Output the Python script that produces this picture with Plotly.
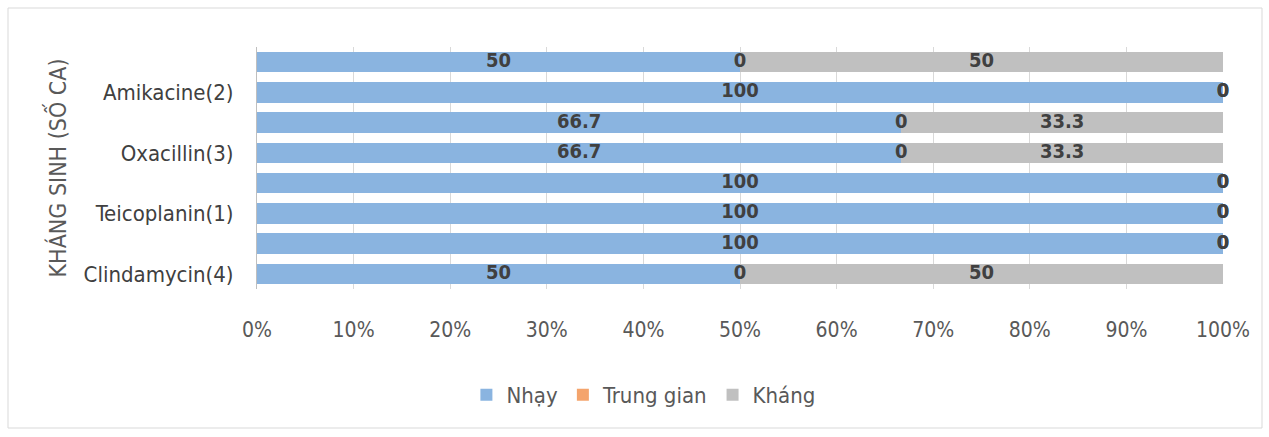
import plotly.graph_objects as go

# Data (top to bottom as shown)
categories = ["hidden-1", "Amikacine(2)", "hidden-3", "Oxacillin(3)",
              "hidden-5", "Teicoplanin(1)", "hidden-7", "Clindamycin(4)"]
shown_labels = ["Amikacine(2)", "Oxacillin(3)", "Teicoplanin(1)", "Clindamycin(4)"]
nhay = [50, 100, 66.7, 66.7, 100, 100, 100, 50]
trung_gian = [0, 0, 0, 0, 0, 0, 0, 0]
khang = [50, 0, 33.3, 33.3, 0, 0, 0, 50]
series_names = ["Nhạy", "Trung gian", "Kháng"]
series_colors = ["#8AB4E0", "#F4A46C", "#C0C0C0"]
x_ticks = [0, 10, 20, 30, 40, 50, 60, 70, 80, 90, 100]
x_tick_text = [f"{v}%" for v in x_ticks]

FONT = "Liberation Sans Narrow, DejaVu Sans Condensed, Arial Narrow, sans-serif"

fig = go.Figure()
series = [nhay, trung_gian, khang]
for name, vals, col in zip(series_names, series, series_colors):
    fig.add_trace(go.Bar(y=categories, x=vals, name=name, orientation="h",
                         marker=dict(color=col, line=dict(width=0)),
                         hoverinfo="x+name"))

# data labels at segment centres
lx, ly, lt = [], [], []
for i, c in enumerate(categories):
    start = 0
    for vals in series:
        v = vals[i]
        lx.append(start + v / 2)
        ly.append(c)
        lt.append(f"{v:g}")
        start += v
fig.add_trace(go.Scatter(x=lx, y=ly, text=lt, mode="text", showlegend=False,
                         textfont=dict(family=FONT, size=20, color="#404040",
                                       weight="bold"),
                         textposition="middle center", cliponaxis=False,
                         hoverinfo="skip"))

fig.update_layout(
    width=1269, height=437,
    barmode="stack", bargap=0.32,
    paper_bgcolor="white", plot_bgcolor="white",
    margin=dict(l=257, r=46, t=47, b=148),
    font=dict(family=FONT, color="#595959"),
    legend=dict(orientation="h", x=0.40, xanchor="center", y=-0.438, yanchor="middle",
                font=dict(family=FONT, size=22, color="#595959"),
                traceorder="normal", itemwidth=30),
    xaxis=dict(range=[0, 100], tickmode="array", tickvals=x_ticks, ticktext=x_tick_text,
               showgrid=True, gridcolor="#D9D9D9", gridwidth=1,
               zeroline=False, showline=False,
               tickfont=dict(family=FONT, size=21, color="#595959"),
               ticklabelstandoff=26),
    yaxis=dict(categoryorder="array", categoryarray=categories, autorange="reversed",
               tickmode="array", tickvals=shown_labels, ticktext=shown_labels,
               showline=True, linecolor="#BFBFBF", linewidth=1,
               showgrid=False, ticks="",
               tickfont=dict(family=FONT, size=22, color="#404040"),
               ticklabelstandoff=18,
               title=dict(text="KHÁNG SINH (SỐ CA)", standoff=10,
                          font=dict(family=FONT, size=23, color="#595959"))),
    shapes=[dict(type="rect", xref="paper", yref="paper",
                 x0=(8 - 257) / 966, x1=(1262 - 257) / 966,
                 y0=-(428 - 289) / 242, y1=(289 - 8) / 242,
                 line=dict(color="#D9D9D9", width=1), fillcolor="rgba(0,0,0,0)",
                 layer="below")],
)

fig.write_html("out.html")
